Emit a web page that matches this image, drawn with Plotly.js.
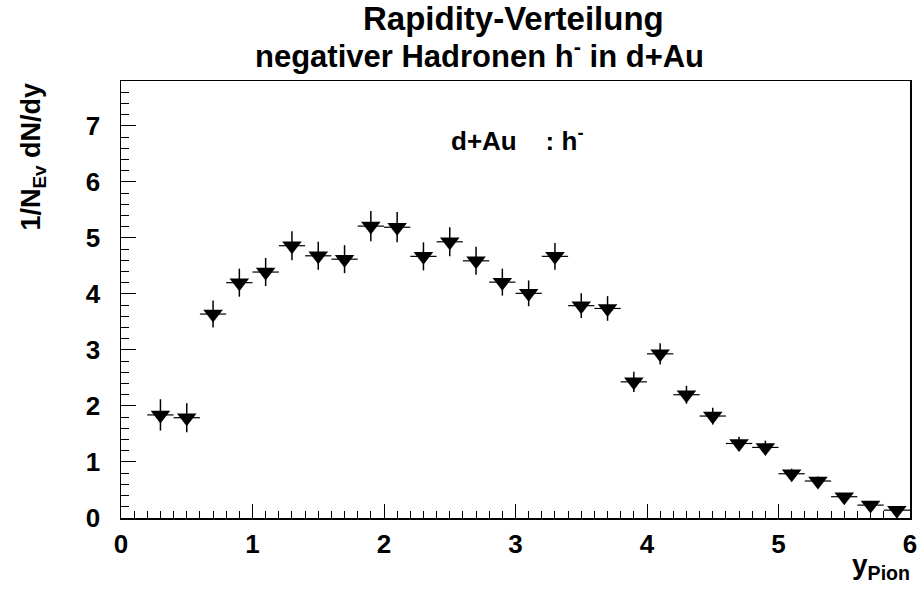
<!DOCTYPE html>
<html>
<head>
<meta charset="utf-8">
<script src="https://cdn.plot.ly/plotly-3.0.1.min.js"></script>
<style>html,body{margin:0;padding:0;background:#fff;}#chart{width:919px;height:594px;}</style>
</head>
<body>
<div id="chart"></div>
<script>
// Bin centres (rapidity) and dN/dy values
const rapidity = [0.3,0.5,0.7,0.9,1.1,1.3,1.5,1.7,1.9,2.1,2.3,2.5,2.7,2.9,3.1,3.3,3.5,3.7,3.9,4.1,4.3,4.5,4.7,4.9,5.1,5.3,5.5,5.7,5.9];
const dNdy = [1.84,1.79,3.64,4.20,4.39,4.86,4.68,4.62,5.21,5.19,4.67,4.93,4.59,4.21,4.01,4.67,3.79,3.74,2.43,2.93,2.20,1.82,1.33,1.26,0.79,0.66,0.38,0.23,0.14];
const dNdyErr = [0.28,0.26,0.24,0.25,0.25,0.26,0.25,0.25,0.27,0.27,0.25,0.26,0.25,0.24,0.23,0.24,0.22,0.22,0.18,0.19,0.16,0.15,0.12,0.12,0.09,0.08,0.06,0.05,0.04];
const binHalfWidth = [0.1,0.1,0.1,0.1,0.1,0.1,0.1,0.1,0.1,0.1,0.1,0.1,0.1,0.1,0.1,0.1,0.1,0.1,0.1,0.1,0.1,0.1,0.1,0.1,0.1,0.1,0.1,0.1,0.1];
const titleLines = ['Rapidity-Verteilung', 'negativer Hadronen h<sup>-</sup> in d+Au'];

const font = "Liberation Sans, Arial, Helvetica, sans-serif";

const trace = {
  x: rapidity, y: dNdy, type: 'scatter', mode: 'markers',
  marker: {symbol: 'triangle-down', size: 17, color: '#000'},
  error_y: {type: 'data', array: dNdyErr, visible: true, color: '#000', thickness: 1.5, width: 0},
  error_x: {type: 'data', array: binHalfWidth, visible: true, color: '#000', thickness: 1.2, width: 0},
  hoverinfo: 'x+y', showlegend: false
};

const layout = {
  width: 919, height: 594,
  margin: {l: 121, r: 9, t: 81, b: 76},
  paper_bgcolor: '#fff', plot_bgcolor: '#fff',
  font: {family: font, color: '#000'},
  xaxis: {
    range: [0, 6], showline: true, linecolor: '#000', linewidth: 1.5, mirror: true,
    showgrid: false, zeroline: false,
    tickmode: 'linear', tick0: 0, dtick: 1, ticks: 'inside', ticklen: 14, tickcolor: '#000', tickwidth: 1,
    minor: {dtick: 0.1, ticks: 'inside', ticklen: 7, tickcolor: '#000', tickwidth: 1, showgrid: false},
    tickfont: {family: font, size: 26, color: '#000', weight: 'bold'},
    ticklabelstandoff: 2
  },
  yaxis: {
    range: [0, 7.8], showline: true, linecolor: '#000', linewidth: 1.5, mirror: true,
    showgrid: false, zeroline: false,
    tickmode: 'linear', tick0: 0, dtick: 1, ticks: 'inside', ticklen: 15, tickcolor: '#000', tickwidth: 1,
    minor: {dtick: 0.2, ticks: 'inside', ticklen: 8, tickcolor: '#000', tickwidth: 1, showgrid: false},
    tickfont: {family: font, size: 26, color: '#000', weight: 'bold'},
    ticklabelstandoff: 14
  },
  annotations: [
    {text: '<b>' + titleLines[0] + '</b>', xref: 'paper', yref: 'paper', x: 0.498, y: 1.142,
     xanchor: 'center', yanchor: 'middle', showarrow: false,
     font: {family: font, size: 33, color: '#000'}},
    {text: '<b>' + titleLines[1] + '</b>', xref: 'paper', yref: 'paper', x: 0.455, y: 1.062,
     xanchor: 'center', yanchor: 'middle', showarrow: false,
     font: {family: font, size: 31, color: '#000'}},
    {text: '<b>1/N<sub>Ev</sub> dN/dy</b>', xref: 'paper', yref: 'paper', x: -0.111, y: 1.002,
     xanchor: 'center', yanchor: 'top', textangle: -90, showarrow: false,
     font: {family: font, size: 27, color: '#000'}},
    {text: '<b>y<sub>Pion</sub></b>', xref: 'paper', yref: 'paper', x: 1.003, y: -0.11,
     xanchor: 'right', yanchor: 'middle', showarrow: false,
     font: {family: font, size: 28, color: '#000'}},
    {text: '<b>d+Au&nbsp;&nbsp;&nbsp;&nbsp;: h<sup>-</sup></b>', xref: 'paper', yref: 'paper', x: 0.416, y: 0.865,
     xanchor: 'left', yanchor: 'middle', showarrow: false,
     font: {family: font, size: 26, color: '#000'}}
  ]
};

Plotly.newPlot('chart', [trace], layout, {displayModeBar: false, staticPlot: true});
</script>
</body>
</html>
